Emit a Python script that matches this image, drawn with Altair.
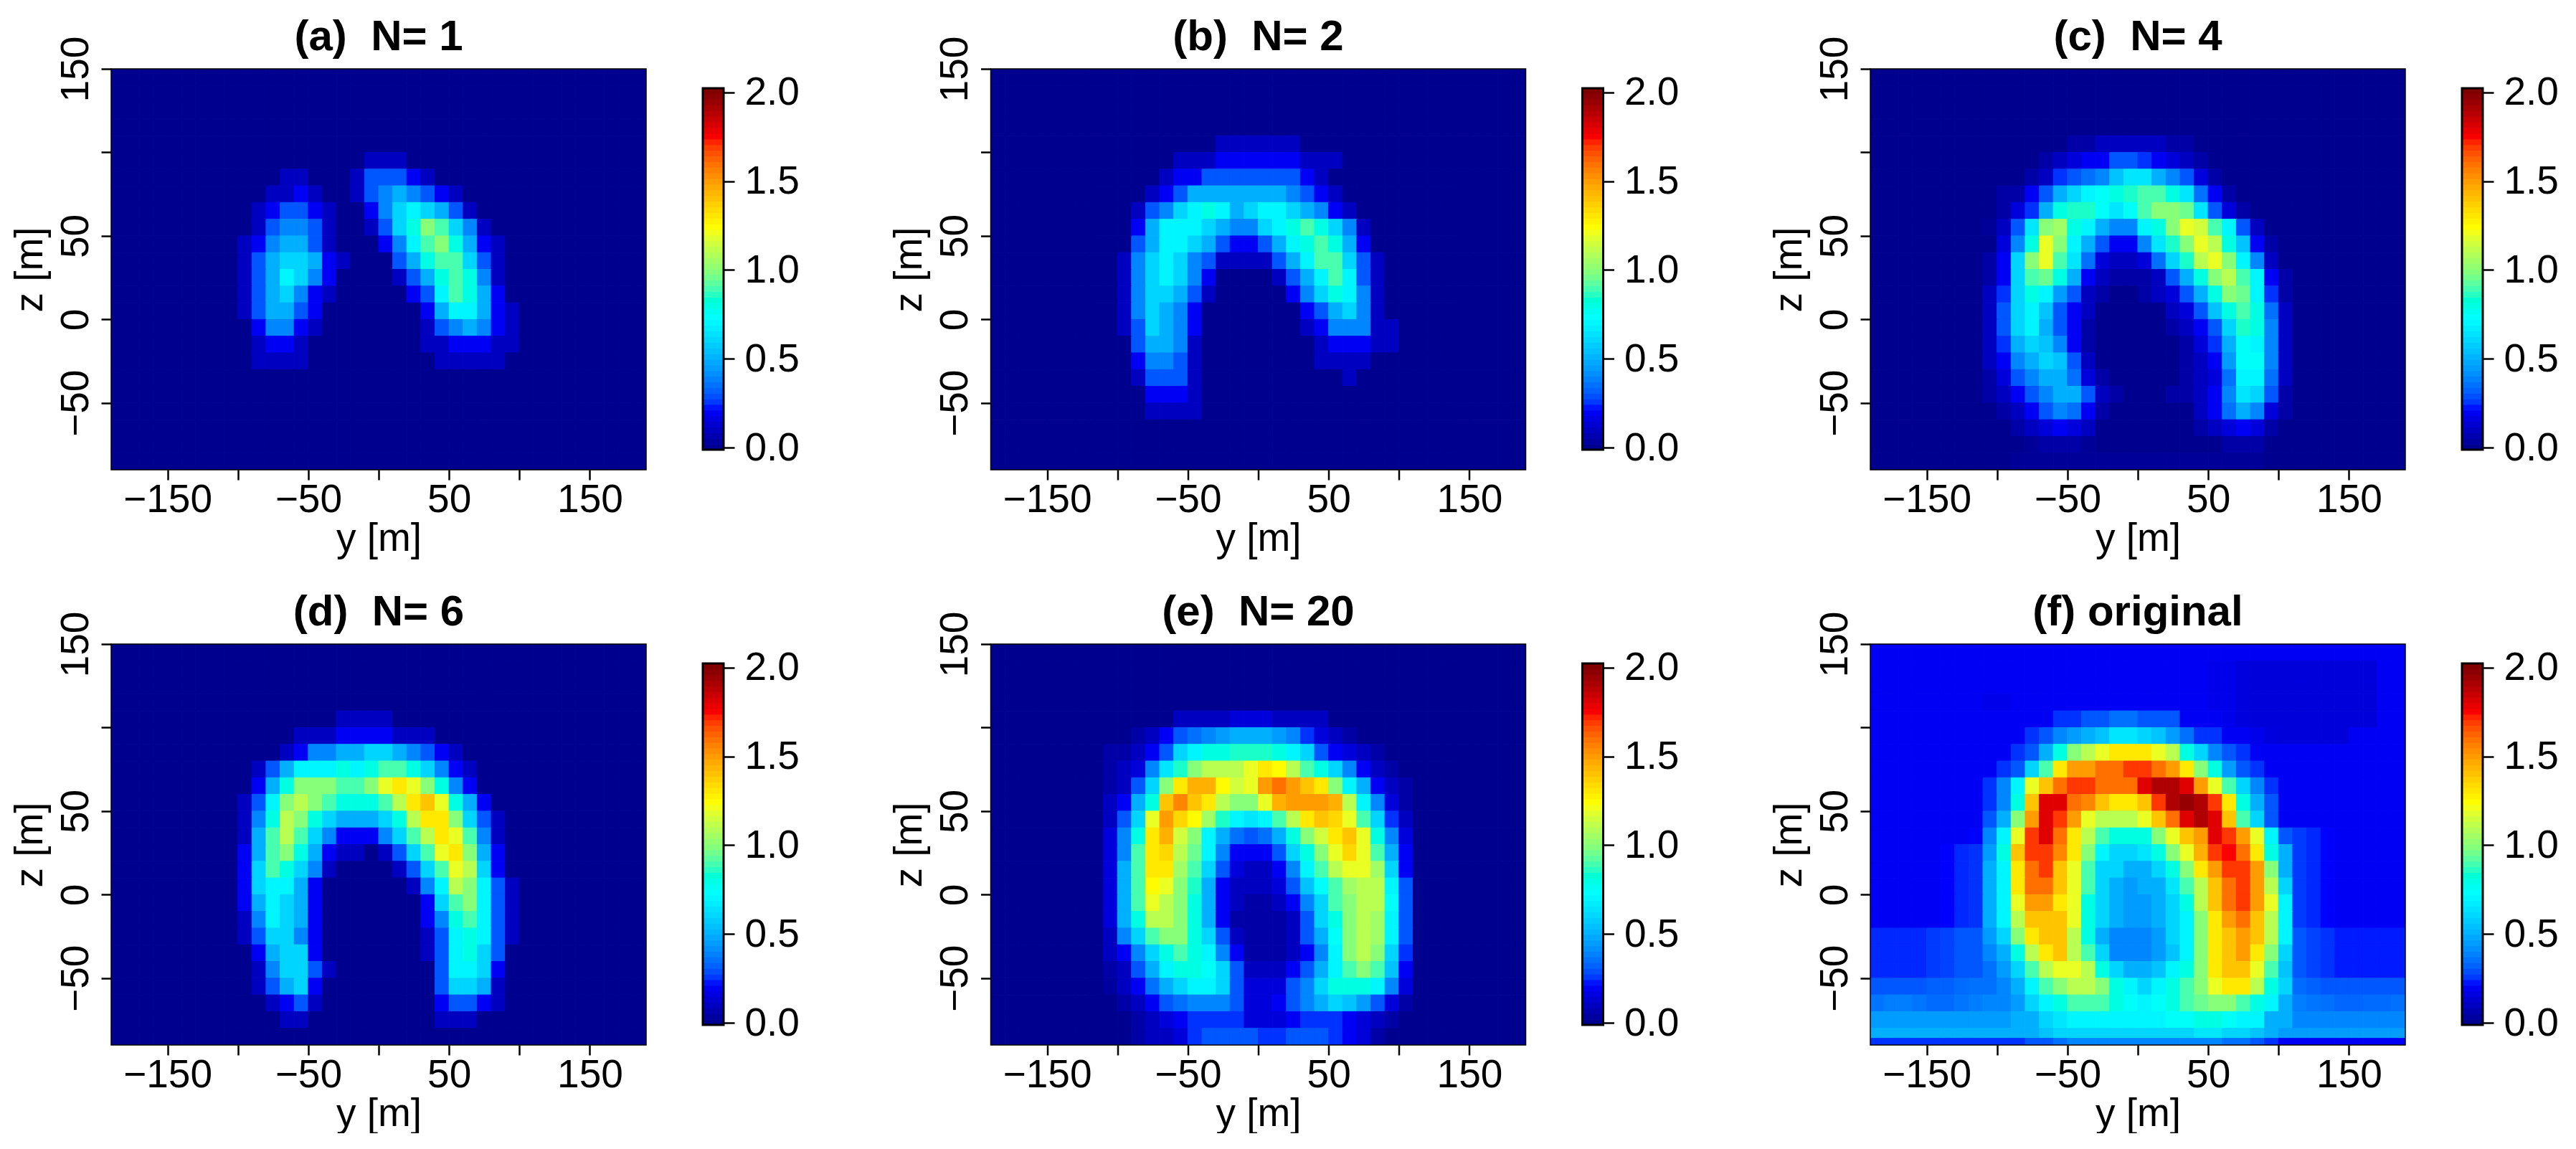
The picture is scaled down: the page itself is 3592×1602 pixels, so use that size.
import altair as alt
import pandas as pd

# Intensity, tenths, on a 10 m grid.
# Rows run from z=105 down to z=-85; columns from y=-105 to y=105 (short rows end in background).
panel_a = [
[],
[0,0,0,0,0,0,0,0,0,0,1,1,1],
[0,0,0,0,1,1,0,0,0,1,3,3,3,2,1],
[0,0,0,1,1,2,1,0,0,1,3,4,5,4,3,2,1],
[0,0,1,2,3,3,2,1,0,0,2,4,6,7,6,5,3,1],
[0,0,1,3,4,4,3,1,0,0,1,3,6,8,10,9,6,4,1],
[0,1,2,4,5,5,3,1,0,0,0,2,4,7,9,10,8,5,2,1],
[0,1,3,5,6,6,5,2,1,0,0,0,3,5,8,9,9,6,3,1],
[0,1,3,5,7,6,4,2,0,0,0,0,1,3,5,8,9,8,4,1],
[0,1,3,5,6,4,2,1,0,0,0,0,0,2,3,7,9,8,5,2],
[0,1,3,5,5,3,2,0,0,0,0,0,0,0,2,5,7,7,5,2,1],
[0,0,2,4,4,2,1,0,0,0,0,0,0,0,1,3,4,5,4,2,1],
[0,0,1,2,2,1,0,0,0,0,0,0,0,0,1,1,2,2,2,1,1],
[0,0,1,1,1,1,0,0,0,0,0,0,0,0,0,1,1,1,1,1],
[],[],[],[],[],[],
]
panel_b = [
[0,0,0,0,0,0,0,0,1,1,1,1,1,1],
[0,0,0,0,0,1,1,1,2,2,2,2,2,2,1,1,1],
[0,0,0,0,1,2,2,3,3,3,3,3,3,3,2,1],
[0,0,0,1,2,3,5,5,5,5,5,5,5,4,3,2,1],
[0,0,1,3,4,6,7,8,7,5,6,7,7,6,5,4,2,1],
[0,0,2,5,7,7,7,6,5,4,4,6,7,8,9,8,6,4,1],
[0,0,3,5,7,7,6,5,3,2,2,3,5,7,8,9,8,5,2],
[0,1,4,6,7,6,4,3,1,1,1,1,3,5,7,9,9,6,3,1],
[0,1,4,6,7,6,4,2,0,0,0,0,1,3,5,7,9,7,3,1],
[0,1,4,6,6,5,3,1,0,0,0,0,0,2,4,6,8,7,4,1],
[0,1,4,6,5,4,2,0,0,0,0,0,0,0,2,3,5,6,4,1],
[0,1,3,6,5,4,2,0,0,0,0,0,0,0,1,2,4,4,4,1,1],
[0,0,3,5,5,4,1,0,0,0,0,0,0,0,0,1,2,2,2,1,1],
[0,0,2,4,4,3,1,0,0,0,0,0,0,0,0,1,1,1,1],
[0,0,1,3,3,3,1,0,0,0,0,0,0,0,0,0,0,1],
[0,0,0,2,2,2,1],
[0,0,0,1,1,1,1],
[],[],[],
]
panel_c = [
[0,0,0,0,0,0,.5,.5,1,1,1,1,1,.5,.5],
[0,0,0,0,.5,1,1.5,2,2,3,3,2.5,2,1.5,1,.5],
[0,0,0,.5,1,2.5,3,3.5,4,5.5,6.5,6.5,5,4,3,1.5,.5],
[0,.5,.5,2,3,5,6,7,7.5,8,8.5,9,9,8,6.5,3.5,2,.5],
[0,.5,1.5,2.5,5,8,8.5,8.5,7.5,6.5,7.5,9,10,10,9.5,6.5,3,1.5,.5],
[.2,1,3,6.5,10,10.5,8,7,5,4,4,7,8,10,12,11.5,9,7,3,1],
[0,1.5,4,8,12,10,7,5,3,2,2,4,6.5,8.5,10,12,11,8,5.5,2,.5],
[.5,2,6,10,12,9,6.5,3.5,1.5,1,1,1.5,3.5,6,8.5,11,12,10,7,4,1],
[.5,2,6,9,9.5,8,5,2,1,.5,.5,.5,1,3,5,8,10,11,9,7,2,.5],
[1,2.5,6,8,7,4.5,3,1,.5,0,0,.5,1,1.5,3,5,8,10,9.5,7,2.5,.5],
[1,3,6,7,5.5,3,2,1,0,0,0,0,0,1,1.5,3,5.5,8,9,8,3.5,1],
[1,3,6,7,5,3,2,.5,0,0,0,0,0,.5,1,2,3,6,8.5,8,4,1],
[1,2.5,5,6,5.5,4,2,.5,0,0,0,0,0,0,.5,1.5,2.5,5,7.5,7,4,1],
[1,2,4,5,6,5.5,3,1,0,0,0,0,0,0,.5,1,2,4.5,7.5,7.5,4,1],
[.5,1.5,3,4,5,5,3.5,1.5,.5,0,0,0,0,0,.5,1,1.5,3.5,7,7,3.5,1],
[.5,1,2,3,4,5,5,3,1,.5,0,0,0,.5,.5,1,2,4,6.5,6,3,.5],
[0,.5,1,2,3,4,3.5,2,.5,0,0,0,0,0,0,1,2,3.5,5,4,1.5,.5],
[0,0,.5,1,1.5,2,1.5,1,0,0,0,0,0,0,0,.5,1,1.5,2,1.5,.5],
[0,0,0,.2,.5,.5,.5,.2,0,0,0,0,0,0,0,0,0,.5,.5,.5],
[0,0,.2,.2,.2,.2,.2,.2,.2,.2,.2,.2,.2,.2,.2,.2,.2,.2,.2,.2],
]
panel_d = [
[0,0,0,0,0,0,0,0,1,1,1,1],
[0,0,0,0,0,1,1,1,2,2,2,2,1,1,1],
[0,0,0,0,1,2,4,4,5,5,6,6,5,4,3,2,1],
[0,0,1,3,5,7,7,7,8,7,8,9,9,8,6,4,2,1],
[0,0,2,5,8,10,10,10,9,9,10,12,13,12,10,8,4,2],
[0,1,3,7,10,11,10,9,8,8,8,9,11,13,14,12,8,5,2],
[0,1,4,8,11,10,8,6,5,5,5,6,8,11,13,13,10,6,3,1],
[0,1,5,9,11,9,6,4,2,2,2,4,6,9,11,13,12,9,4,1],
[0,2,5,9,10,8,5,2,1,1,0,1,3,6,9,12,13,10,5,2],
[0,2,6,9,8,6,4,1,0,0,0,0,1,3,6,9,12,11,6,2],
[0,2,6,7,7,5,2,0,0,0,0,0,0,1,4,7,11,10,7,3,1],
[0,2,5,7,6,5,2,0,0,0,0,0,0,0,2,6,9,10,7,3,1],
[0,1,4,7,6,5,2,0,0,0,0,0,0,0,2,4,8,9,7,3,1],
[0,1,3,6,6,4,2,0,0,0,0,0,0,0,1,3,7,8,7,3,1],
[0,0,2,5,6,6,2,0,0,0,0,0,0,0,1,3,7,8,6,3],
[0,0,1,4,6,6,3,1,0,0,0,0,0,0,0,3,7,7,6,2],
[0,0,1,3,5,6,2,0,0,0,0,0,0,0,0,3,6,6,5,1],
[0,0,0,1,2,3,1,0,0,0,0,0,0,0,0,2,3,3,2,1],
[0,0,0,0,1,1,0,0,0,0,0,0,0,0,0,1,1,1],
[],
]
panel_e = [
[0,0,0,0,0,1,1,1,1,1.5,1.5,1.5,1,1,1,1],
[0,0,.5,1,2,3,3.5,4,4.5,5,5,5,4.5,4,2.5,1.5,1,.5],
[.5,.5,1,2,3,6,7,8,8,8.5,8.5,8.5,8,7,6,3,2,1.5,1,.5],
[.5,1,1.5,4,6.5,8.5,10,11,11,11,12,13,12.5,11,9,8,6,4,2,1,.5],
[.5,1,3,6,10,13,14.5,14.5,12.5,11.5,12,15,16,15,14,13,10,7,5,2,1,.5],
[1,2,5,8,14,15.5,14,13,11,10,10,12,14.5,15,15,15,14.5,11,7,4,1.5,.5],
[1,3,6,12,15,13.5,12.5,10.5,8.5,7,6.5,7,9,11,13,14,13.5,12,9,6,2.5,1],
[1.5,4,8,13,14.5,11.5,10,7,5,3.5,3,3.5,5,8,10,11.5,13,14,12,8,4,1.5],
[1.5,4,9,13,13.5,11,9.5,7,4,2,2,2,3,6,8,10,12,13.5,12,9,5,2],
[1.5,5,9,13,13,10.5,9,6,3,1.5,1,1,2,4,7,9,11,12,12,10.5,6,2],
[1.5,5,9,12.5,12,10,8.5,5,2,1,1,1,1.5,3,5.5,7.5,9,10.5,11,11,7,3],
[1.5,5,9,12,11,10,8,5,2,1,.5,.5,1,2,4,6,9,10,11,11,7.5,3],
[1.5,5,8,11,11,10,8,5,2,.5,.5,.5,.5,1,3,6,8,10,11,10.5,7,3],
[1,4,6,9,10,10,8,6,3,1,.5,.5,.5,1,3,5,7.5,10,11,10.5,7,3],
[1,2,4,6,8,9,8,7,4,2,.5,.5,.5,1,2,4,7,10,11,10,6,2.5],
[.5,1,3,5,7,8,8,7.5,6,3,1,1,1,2,3,5,7,9,10,9,5.5,2],
[.3,1,2,3.5,5,6,7,7,6,3,1.5,1.5,1.5,3,4,6,8,8,8,7,4,1.5],
[0,.5,1,2,3,3.5,4,4,4,3,1.5,1.5,2,3,4,5,6,5.5,4.5,3,1.5,.5],
[0,0,.5,1,1.5,2,2.5,2.5,2.5,2.5,1.5,1.5,1.5,2,2.5,2.5,2.5,2,1.5,1,.5],
[0,0,.5,1,1,1.5,2.5,3,3,3,3,2.5,2.5,3,3,3,2.5,2,1.5,.5],
]
# Panel (f) has no quiet background: full width, y=-185..185, z=145 down to a thin last strip.
L2 = [2, 2, 2, 2, 2, 2.2, 2.4, 2.5]
R2 = [2.6, 2.4, 2.2, 2, 2, 2, 2, 2]
L3 = [2.4, 2.4, 2.4, 2.4, 2.6, 2.7, 3, 3]
R3 = [3, 2.7, 2.5, 2.3, 2.3, 2.3, 2.3, 2.3]
L4 = [3, 3, 3, 3, 3.2, 3.2, 3.4, 3.5]
R4 = [3.4, 3.2, 3, 3, 3, 3, 3, 3]
panel_f = [
[2]*8+[2]*22+[2]*8,
[2]*8+[2,2,2,2,2,2,2,2,2,2,2,2,2,2,2,2,1.8,1.8,1.6,1.5,1.5,1.5]+[1.5]*6+[2]*2,
[2]*8+[2,2,2,2,2,2,2,2,2,2,2,2,2,2,2,2,1.8,1.8,1.6,1.5,1.5,1.5]+[1.5]*6+[2]*2,
[2]*8+[1.8,1.8,2,2,2,2,2,2,2,2,2,2,2,2,2,2,1.8,1.8,1.6,1.5,1.5,1.5]+[1.5]*6+[2]*2,
[2]*8+[2,2,2,2,2,2.5,2.5,3,3,3.5,3.5,3,3,3,2,2,2,1.8,1.6,1.5,1.5,1.5]+[1.5]*6+[2]*2,
[2]*8+[2,2,2,2.5,3,4,4.5,5,5.5,6.5,6.5,6,5.5,4.5,3.5,2.5,2.5,2,2,1.8,1.6,1.5]+[1.5]*4+[2]*4,
[2]*8+[2,2,2.5,3,5,8,10,11,12,13,13,13,12,11,8,6,4,3,2.5,2,2,2]+[2]*8,
[2]*8+[2,2.5,3,6,9,13,15,15,16,16,17,17,16,15,13,10,8,4.5,3,2.5,2,2]+[2]*8,
[2]*8+[2.5,4,7,12,14,16,17,17,16,16,16,18,19,19,18,15,12,9,6,4,2.5,2]+[2]*8,
[2]*8+[2.5,4,8,14,18,18,16,15.5,14,13,13,14,17,19,19.5,19,17,13,8,5,3,2]+[2]*8,
[2]*8+[3,5,10,15,18,17,15,12,11,11,11,12,14,16,18,19,18,14,9,6,3,2]+[2]*8,
[2]*7+[2.2]+[4,7,12,17,18,16,13,11,9,8,8,8,10,12,14,15,18,17,15,12,7,3]+R2,
L2+[4.5,8,14,17,17,15.5,13,10,7,6,6,6.5,8,10,12,14.5,17,17.5,16,13,8,5]+R2,
L2+[5,7,13,16,17,14,12,9,6,6,5,5,6,8,10,13,15,17,17,15,10,5]+R2,
L2+[5,7,13,16,16,14,12,9,6,5,4.5,5,5,6.5,9,11,14,16,17,15,11,6]+R2,
L2+[5,7,12,15,15,13,12,8,6,5,4.5,4.5,5,6,8,11,14,16,17,15,12,7]+R2,
L2+[5,7,11,14,14,14,12,8,6,5,4.5,4.5,5,6,7,10,13,15,16,14,11,7]+R2,
L3+[4.5,6,10,13,14,14,11,8,5,4,4,4,4.5,6,7,10,13,14,15,14,11,7]+R3,
L3+[4,5,8,11,13,14,11,9,6,4,4,4,4.5,5.5,7,10,13,14,15,13,10,6]+R3,
L3+[3.5,4.5,6,9,11,12,12,11,8,6,5,5,5.5,7,8,10,13,14,14,12,9,5.5]+R3,
L4+[3.5,4,5,7,9,10,11,11,10,8,7,6,7,8,9,10,12,13,13,11,8,6]+R4,
[3.6,3.8,3.8,3.6,3.4,3.4,3.6,3.8]+[4,4,4.5,6,7,8,9,9,9,8,7.5,7,7.5,8,9,9.5,10,10,9,8,7,5]+[3.8,3.6,3.5,3.3,3.3,3.4,3.4,3.5],
[4.5]*8+[4.5,4.5,5,5,6,6.5,7,7,7,7,7,7,7,7.5,7.5,8,8,7.5,7,7,5,5]+[4]*8,
[5]*8+[5,5,5,5,5.5,6,6,6,6,6,6,6,6,6,6,6.5,6.5,6,6,5.5,5,4.5]+[4.5]*8,
[2.5]*8+[2.5,2.5,2.5,3,3,3.5,4,4,4,4,4,4,4,4,4,4,4,3.5,3.5,3,2.5,2]+[2]*8,
]

titles = ["(a)\u00a0\u00a0N= 1", "(b)\u00a0\u00a0N= 2", "(c)\u00a0\u00a0N= 4",
          "(d)\u00a0\u00a0N= 6", "(e)\u00a0\u00a0N= 20", "(f) original"]
y_ticks = [-150, -100, -50, 0, 50, 100, 150]
z_ticks = [-50, 0, 50, 100, 150]
bar_ticks = [0, 0.5, 1, 1.5, 2]
jet_stops = [0, 0.22, 0.73, 0.98, 1.24, 1.74, 2]
jet_colors = ["#00008F", "#0000FF", "#00FFFF", "#7FFF80", "#FFFF00", "#FF0000", "#800000"]

FONT = "Liberation Sans"
jet = alt.Scale(domain=jet_stops, range=jet_colors, clamp=True)
Y_DOMAIN = [-190, 190]
Z_DOMAIN = [-90, 150]
PW, PH = 746, 559


def cells(rows, full=False):
    recs = []
    if full:
        z_edges = [150 - 10 * i for i in range(24)] + [-86, -90]
        for i, row in enumerate(rows):
            for j, v in enumerate(row):
                recs.append(dict(y0=-190 + 10 * j, y1=-180 + 10 * j,
                                 z0=z_edges[i + 1], z1=z_edges[i], v=v / 10))
        return pd.DataFrame(recs)
    for zi in range(24):
        z1 = 150 - 10 * zi
        for yj in range(38):
            y0 = -190 + 10 * yj
            v = 0
            i, j = zi - 4, yj - 8
            if 0 <= i < len(rows) and 0 <= j < len(rows[i]):
                v = rows[i][j]
            recs.append(dict(y0=y0, y1=y0 + 10, z0=z1 - 10, z1=z1, v=v / 10))
    return pd.DataFrame(recs)


HIDE_X = "abs(datum.value) == 100 || datum.value == 0 ? '' : datum.label"
HIDE_Z = "abs(datum.value) == 100 ? '' : datum.label"


def panel(rows, title, full=False):
    x = alt.X("y0:Q", scale=alt.Scale(domain=Y_DOMAIN, nice=False, zero=False),
              axis=alt.Axis(values=y_ticks, title="y [m]", labelExpr=HIDE_X, labelFontSize=55,
                            titleFontSize=55, titleFontWeight="normal", tickSize=14, tickWidth=2.5,
                            tickColor="black", labelColor="black", titleColor="black",
                            domain=False, grid=False, labelPadding=1, titlePadding=0,
                            labelFont=FONT, titleFont=FONT, labelOverlap=False, labelFlush=False,
                            labelBound=False))
    y = alt.Y("z0:Q", scale=alt.Scale(domain=Z_DOMAIN, nice=False, zero=False),
              axis=alt.Axis(values=z_ticks, title="z [m]", labelExpr=HIDE_Z, labelFontSize=55,
                            titleFontSize=55, titleFontWeight="normal", tickSize=14, tickWidth=2.5,
                            tickColor="black", labelColor="black", titleColor="black",
                            domain=False, grid=False, labelAngle=270, labelAlign="center",
                            labelBaseline="bottom", labelPadding=7, titlePadding=8,
                            labelFont=FONT, titleFont=FONT, labelOverlap=False, labelFlush=False,
                            labelBound=False))
    heat = alt.Chart(cells(rows, full)).mark_rect(strokeWidth=1, clip=True).encode(
        x=x, x2="y1:Q", y=y, y2="z1:Q",
        color=alt.Color("v:Q", scale=jet, legend=None),
        stroke=alt.Stroke("v:Q", scale=jet, legend=None),
    )
    frame_df = pd.DataFrame([dict(y0=Y_DOMAIN[0], y1=Y_DOMAIN[1], z0=Z_DOMAIN[0], z1=Z_DOMAIN[1])])
    frame = alt.Chart(frame_df).mark_rect(fillOpacity=0, stroke="black", strokeWidth=1.5).encode(
        x="y0:Q", x2="y1:Q", y="z0:Q", y2="z1:Q")
    return alt.layer(heat, frame).properties(
        width=PW, height=PH,
        title=alt.TitleParams(title, font=FONT, fontSize=60, fontWeight="bold", anchor="middle",
                              color="black", offset=-33),
    )


def colorbar():
    n = 64
    lo, hi = -0.012, 2.024
    step = (hi - lo) / n
    df = pd.DataFrame([dict(a=lo + i * step, b=lo + (i + 1) * step, v=lo + (i + 0.5) * step, l=0, r=1)
                       for i in range(n)])
    yscale = alt.Scale(domain=[-0.125, 2.133], nice=False, zero=False)
    bars = alt.Chart(df).mark_rect(strokeWidth=1).encode(
        x=alt.X("l:Q", scale=alt.Scale(domain=[0, 1], nice=False), axis=None),
        x2="r:Q",
        y=alt.Y("a:Q", scale=yscale,
                axis=alt.Axis(orient="right", values=bar_ticks, format=".1f", title=None,
                              labelFontSize=55, tickSize=15, tickWidth=2.5, tickColor="black",
                              labelColor="black", domain=False, grid=False, labelPadding=14,
                              labelFont=FONT, labelOverlap=False, labelFlush=False, labelBound=False)),
        y2="b:Q",
        color=alt.Color("v:Q", scale=jet, legend=None),
        stroke=alt.Stroke("v:Q", scale=jet, legend=None),
    )
    fr = pd.DataFrame([dict(a=lo, b=hi, l=0, r=1)])
    frame = alt.Chart(fr).mark_rect(fillOpacity=0, stroke="black", strokeWidth=3).encode(
        x="l:Q", x2="r:Q", y="a:Q", y2="b:Q")
    return alt.layer(bars, frame).properties(width=29, height=PH)


def cell(rows, title, full=False):
    return alt.hconcat(panel(rows, title, full), colorbar(), spacing=76)


panels = [panel_a, panel_b, panel_c, panel_d, panel_e, panel_f]
row1 = alt.hconcat(*[cell(panels[i], titles[i]) for i in range(3)], spacing=125.5)
row2 = alt.hconcat(*[cell(panels[i], titles[i], i == 5) for i in range(3, 6)], spacing=125.5)
chart = alt.vconcat(row1, row2, spacing=46).properties(
    padding={"left": 6, "top": 14, "right": 0, "bottom": 0}, background="white"
).configure_view(stroke=None)

chart.save("out.html", embed_options={"renderer": "svg", "actions": False})
